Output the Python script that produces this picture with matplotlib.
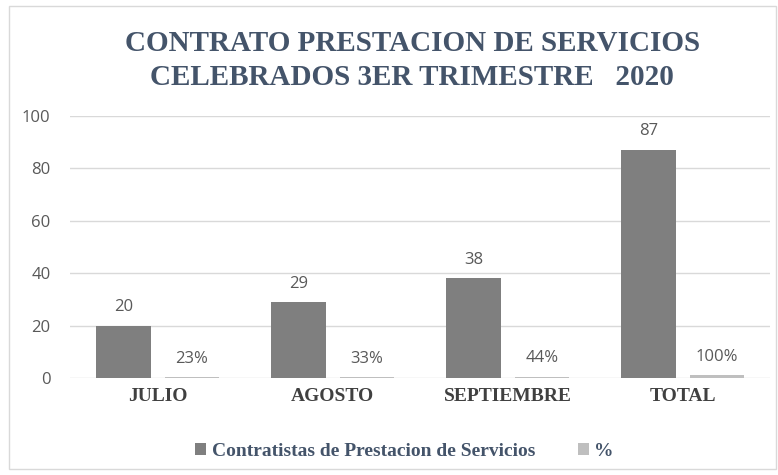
import matplotlib.pyplot as plt
import numpy as np
from matplotlib.patches import Rectangle

# data
categories = ['JULIO', 'AGOSTO', 'SEPTIEMBRE', 'TOTAL']
contratistas = [20, 29, 38, 87]
porcentaje = [0.23, 0.33, 0.44, 1.00]
series_names = ['Contratistas de Prestacion de Servicios', '%']

title_color = '#44546A'
tick_color = '#595959'

fig = plt.figure(figsize=(7.78, 4.75), dpi=100)
ax = fig.add_axes([0.09, 0.204, 0.9, 0.552])

# outer chart border
fig.patches.append(Rectangle((0.012, 0.012), 0.985, 0.975, transform=fig.transFigure,
                             fill=False, edgecolor='#D9D9D9', linewidth=1))

x = np.arange(len(categories))
w = 0.31
off = 0.195
b1 = ax.bar(x - off, contratistas, w, color='#7F7F7F', label=series_names[0], zorder=3)
b2 = ax.bar(x + off, porcentaje, w, color='#BFBFBF', label=series_names[1], zorder=3)

for rect, v in zip(b1, contratistas):
    ax.text(rect.get_x() + rect.get_width() / 2, v + 4, str(v), ha='center', va='bottom',
            fontsize=12, color=tick_color, family='Open Sans')
for rect, v in zip(b2, porcentaje):
    ax.text(rect.get_x() + rect.get_width() / 2, v + 4, '{:.0f}%'.format(v * 100), ha='center',
            va='bottom', fontsize=12, color=tick_color, family='Open Sans')

ax.set_xlim(-0.5, 3.5)
ax.set_ylim(0, 100)
ax.set_yticks(range(0, 101, 20))
ax.set_xticks(x)
ax.set_xticklabels(categories, fontsize=14, fontweight='bold', family='Liberation Serif',
                   color='#404040')
for lbl in ax.get_yticklabels():
    lbl.set_family('Open Sans')
    lbl.set_fontsize(12)
    lbl.set_color(tick_color)
ax.tick_params(axis='both', length=0)
ax.tick_params(axis='y', pad=14)
ax.tick_params(axis='x', pad=7)
ax.grid(axis='y', color='#D9D9D9', linewidth=1, zorder=0)
for s in ax.spines.values():
    s.set_visible(False)

fig.text(0.53, 0.872, 'CONTRATO PRESTACION DE SERVICIOS\nCELEBRADOS 3ER TRIMESTRE   2020',
         ha='center', va='center', fontsize=21, fontweight='bold', family='Liberation Serif',
         color=title_color, linespacing=1.35)

leg = fig.legend(loc='center', bbox_to_anchor=(0.52, 0.05), ncol=2, frameon=False,
                 prop={'family': 'Liberation Serif', 'weight': 'bold', 'size': 14},
                 handlelength=0.55, handleheight=0.55, columnspacing=2.2, handletextpad=0.3)
for t in leg.get_texts():
    t.set_color(title_color)

fig.savefig('out.png', dpi=100)
